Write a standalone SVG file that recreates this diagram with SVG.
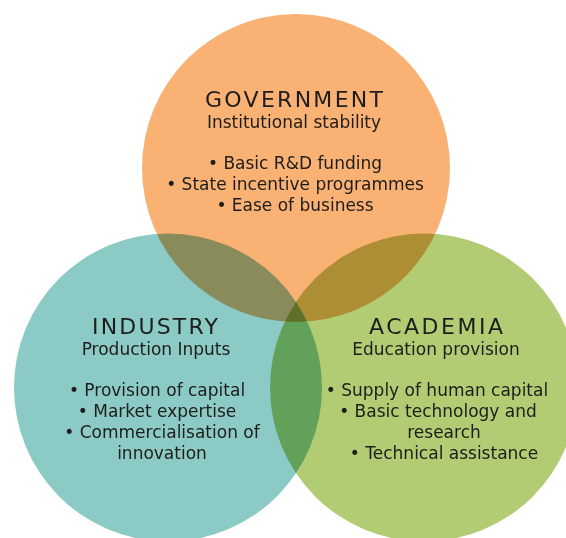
<svg xmlns="http://www.w3.org/2000/svg" width="566" height="538" viewBox="0 0 566 538">
  <style>
    .ring { mix-blend-mode: multiply; }
    .title { font-family: "DejaVu Sans", "Liberation Sans", sans-serif; font-size: 22px; fill: #1d1d1b; text-anchor: middle; }
    .body { font-family: "DejaVu Sans", "Liberation Sans", sans-serif; font-size: 17px; fill: #1d1d1b; text-anchor: middle; }
  </style>
  <rect width="566" height="538" fill="#ffffff"/>

  <!-- overlapping circles, blended so the intersections darken -->
  <g id="circles" style="isolation:isolate">
    <circle id="government-circle" class="ring" cx="296" cy="168" r="154" fill="#f9b174"/>
    <circle id="industry-circle" class="ring" cx="168" cy="387.5" r="154" fill="#8ccac6"/>
    <circle id="academia-circle" class="ring" cx="424" cy="387.5" r="154" fill="#b2cc73"/>
  </g>

  <g id="connectors"></g>

  <g id="government">
    <text class="title" x="294" y="107" textLength="178" lengthAdjust="spacing">GOVERNMENT</text>
    <text class="body" x="294" y="128">Institutional stability</text>
    <text class="body" x="295" y="169">• Basic R&amp;D funding</text>
    <text class="body" x="295" y="190">• State incentive programmes</text>
    <text class="body" x="295" y="211">• Ease of business</text>
  </g>

  <g id="industry">
    <text class="title" x="155" y="334" textLength="126" lengthAdjust="spacing">INDUSTRY</text>
    <text class="body" x="156" y="355">Production Inputs</text>
    <text class="body" x="157" y="396">• Provision of capital</text>
    <text class="body" x="157" y="417">• Market expertise</text>
    <text class="body" x="162" y="438">• Commercialisation of</text>
    <text class="body" x="162" y="459">innovation</text>
  </g>

  <g id="academia">
    <text class="title" x="436" y="334" textLength="134" lengthAdjust="spacing">ACADEMIA</text>
    <text class="body" x="436" y="355">Education provision</text>
    <text class="body" x="437" y="396">• Supply of human capital</text>
    <text class="body" x="438" y="417">• Basic technology and</text>
    <text class="body" x="444" y="438">research</text>
    <text class="body" x="444" y="459">• Technical assistance</text>
  </g>
</svg>
